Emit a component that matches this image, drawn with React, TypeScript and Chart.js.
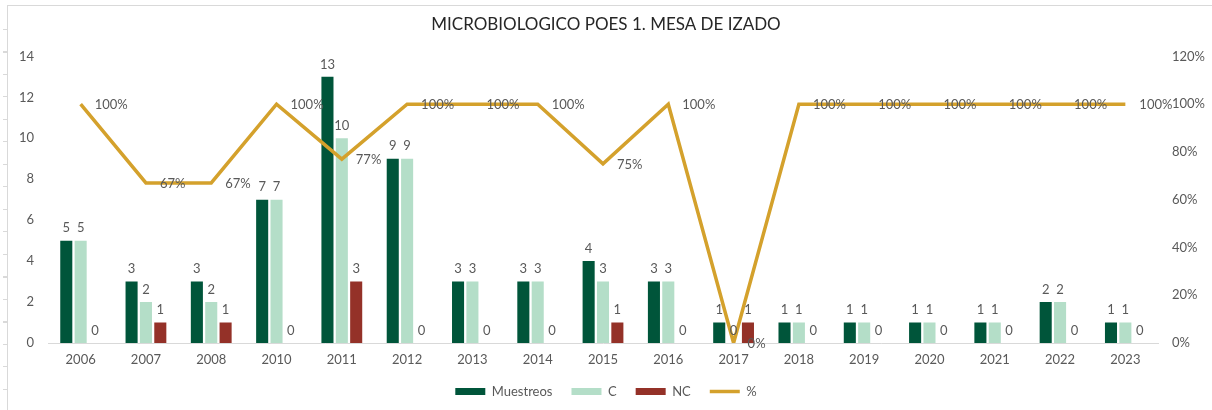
import React, { useEffect, useRef } from "react";
import { Chart, registerables } from "chart.js";

Chart.register(...registerables);

const categories = ["2006", "2007", "2008", "2010", "2011", "2012", "2013", "2014", "2015", "2016", "2017", "2018", "2019", "2020", "2021", "2022", "2023"];
const muestreos = [5, 3, 3, 7, 13, 9, 3, 3, 4, 3, 1, 1, 1, 1, 1, 2, 1];
const conformes = [5, 2, 2, 7, 10, 9, 3, 3, 3, 3, 0, 1, 1, 1, 1, 2, 1];
const noConformes = [0, 1, 1, 0, 3, 0, 0, 0, 1, 0, 1, 0, 0, 0, 0, 0, 0];
const porcentaje = [100, 67, 67, 100, 77, 100, 100, 100, 75, 100, 0, 100, 100, 100, 100, 100, 100];

const FONT = "Lato, 'Liberation Sans', sans-serif";
const GRAY = "#595959";

const valueLabels = {
  id: "valueLabels",
  afterDatasetsDraw(chart: any) {
    const ctx = chart.ctx;
    ctx.save();
    ctx.font = `13px ${FONT}`;
    ctx.fillStyle = GRAY;
    chart.data.datasets.forEach((ds: any, i: number) => {
      const meta = chart.getDatasetMeta(i);
      meta.data.forEach((el: any, j: number) => {
        const v = ds.data[j];
        if (meta.type === "line") {
          ctx.textAlign = "left";
          ctx.textBaseline = "middle";
          ctx.fillText(v + "%", el.x + 14, el.y + 1);
        } else {
          ctx.textAlign = "center";
          ctx.textBaseline = "bottom";
          ctx.fillText(String(v), el.x, el.y - 6);
        }
      });
    });
    ctx.restore();
  },
};

export default function App() {
  const ref = useRef<HTMLCanvasElement | null>(null);
  useEffect(() => {
    if (!ref.current) return;
    const chart = new Chart(ref.current, {
      type: "bar",
      data: {
        labels: categories,
        datasets: [
          { label: "Muestreos", data: muestreos, backgroundColor: "#00553A", yAxisID: "y", order: 1, pointStyle: "rect" } as any,
          { label: "C", data: conformes, backgroundColor: "#B4DEC8", yAxisID: "y", order: 1, pointStyle: "rect" } as any,
          { label: "NC", data: noConformes, backgroundColor: "#943128", yAxisID: "y", order: 1, pointStyle: "rect" } as any,
          {
            type: "line",
            label: "%",
            data: porcentaje,
            borderColor: "#D4A12C",
            backgroundColor: "#D4A12C",
            borderWidth: 3.5,
            pointRadius: 0,
            pointStyle: "line",
            tension: 0,
            yAxisID: "y1",
            order: 0,
          } as any,
        ],
      },
      options: {
        responsive: false,
        animation: false,
        layout: { padding: { left: 0, right: 0, top: 0, bottom: 2 } },
        datasets: { bar: { categoryPercentage: 0.66, barPercentage: 0.84 } } as any,
        plugins: {
          title: {
            display: true,
            text: "MICROBIOLOGICO POES 1. MESA DE IZADO",
            color: "#262626",
            font: { family: FONT, size: 17, weight: "normal" },
            padding: { top: 14, bottom: 22 },
          },
          legend: {
            position: "bottom",
            labels: {
              usePointStyle: true,
              pointStyleWidth: 30,
              boxWidth: 30,
              boxHeight: 7,
              padding: 19,
              color: GRAY,
              font: { family: FONT, size: 13 },
              sort: (a: any, b: any) => a.datasetIndex - b.datasetIndex,
            },
          },
          tooltip: { enabled: false },
        },
        scales: {
          x: {
            grid: { display: false, drawTicks: false },
            border: { display: true, color: "#D9D9D9", width: 1 },
            ticks: { color: GRAY, font: { family: FONT, size: 13 }, padding: 9, maxRotation: 0 },
            afterFit: (s: any) => { s.height = 23; },
          },
          y: {
            position: "left",
            min: 0,
            max: 14,
            ticks: { stepSize: 2, color: GRAY, font: { family: FONT, size: 13 }, padding: 14 },
            grid: { display: false, drawTicks: false },
            border: { display: false },
            afterFit: (s: any) => { s.width = 48; },
          },
          y1: {
            position: "right",
            min: 0,
            max: 120,
            ticks: { stepSize: 20, color: GRAY, font: { family: FONT, size: 13 }, padding: 14, callback: (v: any) => v + "%" },
            grid: { display: false, drawTicks: false },
            border: { display: false },
            afterFit: (s: any) => { s.width = 54; },
          },
        },
      },
      plugins: [valueLabels],
    });
    return () => chart.destroy();
  }, []);

  return (
    <div style={{ position: "fixed", left: 0, top: 0, width: 1212, height: 410, background: "#fff", overflow: "hidden" }}>
      <div style={{ position: "absolute", left: 7, top: 5, right: 0, bottom: 0, borderTop: "1px solid #D9D9D9", borderLeft: "1px solid #D9D9D9" }} />
      <div style={{ position: "absolute", left: 3, top: 29, width: 4, height: 370, background: "repeating-linear-gradient(to bottom, #D9D9D9 0px, #D9D9D9 1px, transparent 1px, transparent 22.5px)" }} />
      <canvas ref={ref} width={1212} height={410} style={{ position: "absolute", left: 0, top: 0 }} />
    </div>
  );
}
